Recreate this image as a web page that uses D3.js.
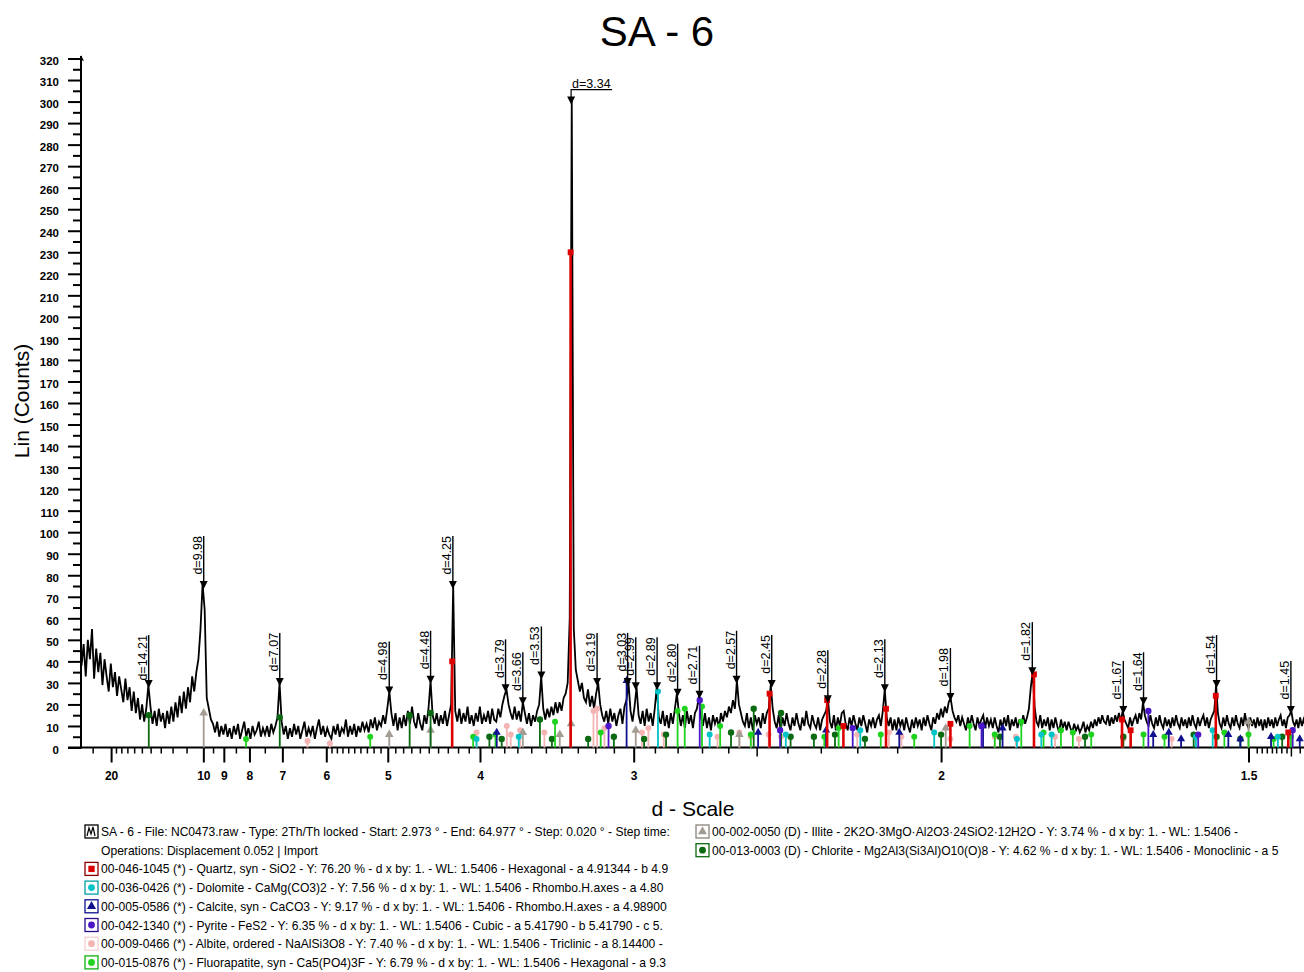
<!DOCTYPE html>
<html>
<head>
<meta charset="utf-8">
<title>SA - 6</title>
<script src="https://cdn.jsdelivr.net/npm/d3@7"></script>
<style>
  body { margin: 0; background: #fff; }
  svg { display: block; }
  text { font-family: "Liberation Sans", Arial, sans-serif; }
</style>
</head>
<body>
<div id="chart"></div>
<script>
// XRD scan SA - 6, counts at 0.1 deg 2Theta
const WL = 1.5406;
const scanStart = 3.0, scanStep = 0.1;
const scanCounts = [
  38,48,33,50,41,55,32,46,35,44,  // 3
  29,41,33,26,39,28,35,24,33,27,  // 4
  21,32,22,28,17,26,16,23,13,20,  // 5
  12,18,29,19,11,17,10,18,12,16,  // 6
  9,17,11,19,12,21,14,24,16,26,   // 7
  18,28,21,33,26,35,41,55,76,64,  // 8
  23,18,13,11,7,12,5,10,6,11,     // 9
  5,9,4,10,6,11,4,8,12,5,         // 10
  9,4,10,6,8,12,5,9,6,10,         // 11
  5,11,7,10,14,30,12,6,10,4,      // 12
  9,5,11,6,10,4,8,12,5,9,         // 13
  6,10,4,9,13,6,10,5,9,6,         // 14
  4,10,6,11,5,9,7,13,5,10,        // 15
  6,11,5,10,7,12,8,11,7,13,       // 16
  9,14,8,12,10,15,11,18,26,16,    // 17
  10,16,8,14,9,15,10,17,11,19,    // 18
  12,9,16,11,8,15,11,18,31,15,    // 19
  11,16,10,15,11,17,10,15,20,75,  // 20
  17,12,18,11,16,12,19,11,15,10,  // 21
  16,12,19,11,15,12,17,11,18,13,  // 22
  12,18,14,20,24,27,20,16,13,19,  // 23
  13,17,12,21,16,11,16,10,15,12,  // 24
  17,20,33,18,13,18,14,19,15,21,  // 25
  16,21,17,23,25,30,60,301,55,36, // 26
  31,26,30,23,21,27,19,24,18,25,  // 27
  30,20,15,12,17,11,18,12,16,10,  // 28
  15,18,11,19,22,30,17,12,19,28,  // 29
  15,11,17,10,18,12,16,10,18,28,  // 30
  14,11,17,10,15,9,16,11,18,25,   // 31
  16,10,15,9,17,11,15,9,16,18,    // 32
  24,14,10,16,9,14,8,15,11,14,    // 33
  9,16,12,17,14,19,16,22,18,31,   // 34
  20,16,12,10,16,9,14,8,15,11,    // 35
  14,9,16,11,16,18,29,18,12,9,    // 36
  15,8,14,10,16,11,8,14,10,16,    // 37
  11,8,14,10,17,11,9,15,11,9,     // 38
  14,8,13,15,17,22,12,9,15,8,     // 39
  14,10,16,17,11,8,14,10,15,11,   // 40
  8,14,10,15,11,7,13,10,14,9,     // 41
  13,15,10,17,27,14,10,14,8,13,   // 42
  8,14,10,13,8,14,10,7,13,9,      // 43
  14,10,13,8,14,10,15,11,8,14,    // 44
  11,16,13,18,14,19,16,21,23,17,  // 45
  14,12,15,10,14,11,8,14,10,15,   // 46
  11,8,14,10,13,15,9,14,10,13,    // 47
  9,14,10,7,13,9,14,10,15,8,      // 48
  13,10,14,9,13,10,15,11,14,18,   // 49
  28,35,19,12,10,15,9,13,10,14,   // 50
  8,13,9,14,10,7,13,9,12,8,       // 51
  12,9,7,11,8,10,7,9,12,7,        // 52
  10,8,12,9,13,10,14,11,15,12,    // 53
  11,15,10,14,11,15,12,16,12,17,  // 54
  13,11,9,14,10,13,15,11,16,13,   // 55
  21,15,12,10,15,11,9,14,10,15,   // 56
  11,9,14,10,13,9,14,10,15,11,    // 57
  9,14,10,13,9,14,10,15,11,9,     // 58
  14,10,13,15,10,14,9,13,15,17,   // 59
  29,16,11,9,14,10,15,11,9,14,    // 60
  10,15,11,9,14,10,16,11,9,14,    // 61
  10,13,9,14,10,13,8,13,9,14,     // 62
  10,13,9,14,10,13,15,10,13,9,    // 63
  14,15,17,12,10,13,9,14,10,13,   // 64
  10                              // 65
];

// peak labels: d spacing, counts at the marker
const peakLabels = [
  [14.21,29],[9.98,75],[7.07,30],[4.98,26],[4.48,31],[4.25,75],[3.79,27],[3.66,21],
  [3.53,33],[3.19,30],[3.03,30],[2.99,28],[2.89,28],[2.80,25],[2.71,24],[2.57,31],
  [2.45,29],[2.28,22],[2.13,27],[1.98,23],[1.82,35],[1.67,17],[1.64,21],[1.54,29],[1.45,17]
];
const mainPeak = [3.34, 300];

// reference sticks per phase: [d, counts]
const quartzSticks = [[4.257,40],[3.343,230],[2.457,25],[2.282,22],[2.237,10],[2.127,18],[1.980,11],
  [1.817,34],[1.672,13],[1.659,8],[1.541,24],[1.453,7]];
const dolomiteSticks = [[4.03,4],[3.69,5],[2.886,26],[2.670,6],[2.405,6],[2.192,8],[2.015,7],[1.848,4],
  [1.804,6],[1.786,6],[1.567,5],[1.545,8],[1.465,5]];
const calciteSticks = [[3.86,7],[3.035,31],[2.495,7],[2.285,8],[2.095,7],[1.913,10],[1.875,9],[1.626,6],
  [1.604,7],[1.587,4],[1.525,6],[1.510,4],[1.473,5],[1.440,4]];
const pyriteSticks = [[3.128,10],[2.709,22],[2.423,8],[2.212,9],[1.916,10],[1.633,17],[1.564,6],[1.448,8]];
const albiteSticks = [[6.39,3],[5.93,2],[4.03,7],[3.78,10],[3.75,6],[3.68,8],[3.51,7],[3.21,17],[3.19,18],
  [3.15,9],[2.96,7],[2.93,9],[2.86,6],[2.64,5],[2.56,7],[2.52,5],[2.46,6],[2.42,5],[2.20,6],[2.12,7],
  [2.09,5],[1.98,4],[1.89,5],[1.85,5],[1.78,5],[1.74,4],[1.67,4],[1.60,4]];
const fluorapatiteSticks = [[8.12,4],[5.25,5],[4.06,5],[3.87,6],[3.44,12],[3.17,7],[2.80,17],[2.77,18],
  [2.70,19],[2.63,10],[2.52,6],[2.29,5],[2.25,9],[2.14,6],[2.06,5],[1.94,10],[1.89,6],[1.84,12],[1.80,7],
  [1.77,8],[1.75,7],[1.72,6],[1.64,6],[1.61,5],[1.53,7],[1.50,6],[1.47,4],[1.45,5]];
const illiteSticks = [[9.98,16],[4.98,6],[4.48,8],[3.66,7],[3.41,6],[3.34,11],[2.99,8],[2.56,6],[1.99,9],[1.50,12]];
const chloriteSticks = [[14.2,15],[7.07,14],[4.72,15],[4.48,16],[3.92,5],[3.82,4],[3.54,13],[3.46,4],[3.24,4],
  [3.10,5],[2.95,4],[2.85,6],[2.59,7],[2.51,18],[2.42,16],[2.39,5],[2.32,5],[2.26,6],[2.18,4],[2.00,6],
  [1.88,5],[1.73,5],[1.67,5],[1.57,6],[1.54,5],[1.51,4],[1.46,5]];

// axes ticks
const yTicks = [0,10,20,30,40,50,60,70,80,90,100,110,120,130,140,150,160,170,180,190,200,
  210,220,230,240,250,260,270,280,290,300,310,320];
const xMajor = [20,10,9,8,7,6,5,4,3,2,1.5];
const xMajorLabels = ['20','10','9','8','7','6','5','4','3','2','1.5'];
const xMinor = [25,19,18,17,16,15,14,13,12,11,9.5,8.5,7.5,6.5,
  5.9,5.8,5.7,5.6,5.5,5.4,5.3,5.2,5.1,4.9,4.8,4.7,4.6,4.5,4.4,4.3,4.2,4.1,
  3.9,3.8,3.7,3.6,3.5,3.4,3.3,3.2,3.1,2.9,2.8,2.7,2.6,2.4,2.3,2.2,2.1,
  1.49,1.484,1.478,1.472,1.467,1.461,1.455,1.44];
const xMid = [2.5,1.45];

// legend texts
const scanLegend = ['SA - 6 - File: NC0473.raw - Type: 2Th/Th locked - Start: 2.973 ° - End: 64.977 ° - Step: 0.020 ° - Step time:',
  'Operations: Displacement 0.052 | Import'];
const phaseNames = ['quartz','dolomite','calcite','pyrite','albite','fluorapatite','illite','chlorite'];
const phaseLegend = [
  '00-046-1045 (*) - Quartz, syn - SiO2 - Y: 76.20 % - d x by: 1. - WL: 1.5406 - Hexagonal - a 4.91344 - b 4.9',
  '00-036-0426 (*) - Dolomite - CaMg(CO3)2 - Y: 7.56 % - d x by: 1. - WL: 1.5406 - Rhombo.H.axes - a 4.80',
  '00-005-0586 (*) - Calcite, syn - CaCO3 - Y: 9.17 % - d x by: 1. - WL: 1.5406 - Rhombo.H.axes - a 4.98900',
  '00-042-1340 (*) - Pyrite - FeS2 - Y: 6.35 % - d x by: 1. - WL: 1.5406 - Cubic - a 5.41790 - b 5.41790 - c 5.',
  '00-009-0466 (*) - Albite, ordered - NaAlSi3O8 - Y: 7.40 % - d x by: 1. - WL: 1.5406 - Triclinic - a 8.14400 -',
  '00-015-0876 (*) - Fluorapatite, syn - Ca5(PO4)3F - Y: 6.79 % - d x by: 1. - WL: 1.5406 - Hexagonal - a 9.3',
  '00-002-0050 (D) - Illite - 2K2O·3MgO·Al2O3·24SiO2·12H2O - Y: 3.74 % - d x by: 1. - WL: 1.5406 -',
  '00-013-0003 (D) - Chlorite - Mg2Al3(Si3Al)O10(O)8 - Y: 4.62 % - d x by: 1. - WL: 1.5406 - Monoclinic - a 5'
];
const phaseSticks = [quartzSticks, dolomiteSticks, calciteSticks, pyriteSticks, albiteSticks,
  fluorapatiteSticks, illiteSticks, chloriteSticks];

const phaseStyle = {
  quartz:       {color:'#dd0000', box:'#8b0000', symbol:d3.symbolSquare,   size:34, width:2.6},
  dolomite:     {color:'#00c4c8', box:'#00a0a8', symbol:d3.symbolCircle,   size:28, width:1.8},
  calcite:      {color:'#101090', box:'#101090', symbol:d3.symbolTriangle, size:28, width:1.8},
  pyrite:       {color:'#4a16c8', box:'#2a0a90', symbol:d3.symbolCircle,   size:32, width:1.8},
  albite:       {color:'#f4b4b4', box:'#f4d0d0', symbol:d3.symbolCircle,   size:28, width:1.8},
  fluorapatite: {color:'#1ed21e', box:'#10b010', symbol:d3.symbolCircle,   size:28, width:1.8},
  illite:       {color:'#a39c92', box:'#8a847a', symbol:d3.symbolTriangle, size:32, width:1.8},
  chlorite:     {color:'#0b6a12', box:'#0b6a12', symbol:d3.symbolCircle,   size:32, width:1.8}
};

(function(){
  const W = 1304, H = 972;
  const svg = d3.select('#chart').append('svg').attr('width', W).attr('height', H);
  svg.append('rect').attr('width', W).attr('height', H).attr('fill', '#fff');

  // d-scale: linear in 1/d (sin theta)
  const qOf = tt => 2 * Math.sin(tt * Math.PI / 360) / WL;
  const x = d3.scaleLinear().domain([qOf(2.973), qOf(64.977)]).range([81, 1305]);
  const xd = d => x(1 / d);
  const y = d3.scaleLinear().domain([0, 320]).range([747.5, 58.5]);

  svg.append('defs').append('clipPath').attr('id', 'plotclip')
    .append('rect').attr('x', 81).attr('y', 40).attr('width', W - 81).attr('height', 708);

  // title & axis titles
  svg.append('text').attr('x', 657).attr('y', 46).attr('text-anchor', 'middle')
    .attr('font-size', '42px').text('SA - 6');
  svg.append('text').attr('transform', 'translate(29,401) rotate(-90)').attr('text-anchor', 'middle')
    .attr('font-size', '21px').text('Lin (Counts)');
  svg.append('text').attr('x', 693).attr('y', 816).attr('text-anchor', 'middle')
    .attr('font-size', '21px').text('d - Scale');

  // y axis
  const yAx = svg.append('g').attr('transform', 'translate(81,0)')
    .call(d3.axisLeft(y).tickValues(yTicks).tickSize(13).tickPadding(9).tickFormat(d3.format('d')));
  yAx.select('.domain').remove();
  yAx.selectAll('line').attr('stroke', '#000').attr('stroke-width', 2);
  yAx.selectAll('text').attr('font-size', '11.5px').attr('font-weight', 'bold').attr('dy', '0.5em')
    .attr('font-family', '"Liberation Sans", Arial, sans-serif');
  const yMin = svg.append('g').attr('transform', 'translate(81,0)')
    .call(d3.axisLeft(y).tickValues(yTicks.slice(1).map(v => v - 5)).tickSize(8).tickFormat(''));
  yMin.select('.domain').remove();
  yMin.selectAll('line').attr('stroke', '#000').attr('stroke-width', 2);
  svg.append('line').attr('x1', 81).attr('x2', 81).attr('y1', 748.5).attr('y2', 56)
    .attr('stroke', '#000').attr('stroke-width', 2);
  svg.append('path').attr('d', 'M81,55 L84,61 L81,60 Z').attr('fill', '#000');

  // x axis
  const xAx = svg.append('g').attr('transform', 'translate(0,747.5)')
    .call(d3.axisBottom(x).tickValues(xMajor.map(d => 1 / d)).tickSize(15).tickPadding(8.5)
      .tickFormat((v, i) => xMajorLabels[i]));
  xAx.select('.domain').remove();
  xAx.selectAll('line').attr('stroke', '#000').attr('stroke-width', 2);
  xAx.selectAll('text').attr('font-size', '12px').attr('font-weight', 'bold')
    .attr('font-family', '"Liberation Sans", Arial, sans-serif');
  const xMn = svg.append('g').attr('transform', 'translate(0,747.5)')
    .call(d3.axisBottom(x).tickValues(xMinor.map(d => 1 / d)).tickSize(6).tickFormat(''));
  xMn.select('.domain').remove();
  xMn.selectAll('line').attr('stroke', '#000').attr('stroke-width', 1.5);
  const xMd = svg.append('g').attr('transform', 'translate(0,747.5)')
    .call(d3.axisBottom(x).tickValues(xMid.map(d => 1 / d)).tickSize(9).tickFormat(''));
  xMd.select('.domain').remove();
  xMd.selectAll('line').attr('stroke', '#000').attr('stroke-width', 1.5);
  svg.append('line').attr('x1', 68).attr('x2', W).attr('y1', 747.5).attr('y2', 747.5)
    .attr('stroke', '#000').attr('stroke-width', 2);

  // pattern
  const scan = scanCounts.map((c, i) => [scanStart + i * scanStep, c]);
  const line = d3.line().x(p => x(qOf(p[0]))).y(p => y(p[1]));
  svg.append('path').datum(scan).attr('clip-path', 'url(#plotclip)')
    .attr('d', line).attr('fill', 'none').attr('stroke', '#000').attr('stroke-width', 1.8)
    .attr('stroke-linejoin', 'miter');

  // phase sticks
  const sticksG = svg.append('g').attr('clip-path', 'url(#plotclip)');
  const drawOrder = [4, 6, 7, 5, 1, 2, 3, 0];
  drawOrder.forEach(k => {
    const st = phaseStyle[phaseNames[k]];
    const g = sticksG.append('g');
    g.selectAll('line').data(phaseSticks[k]).enter().append('line')
      .attr('x1', s => xd(s[0])).attr('x2', s => xd(s[0]))
      .attr('y1', y(0)).attr('y2', s => y(s[1]))
      .attr('stroke', st.color).attr('stroke-width', st.width);
    g.selectAll('path').data(phaseSticks[k]).enter().append('path')
      .attr('transform', s => `translate(${xd(s[0])},${y(s[1])})`)
      .attr('d', d3.symbol().type(st.symbol).size(st.size)).attr('fill', st.color);
  });

  // peak labels
  const lab = svg.append('g');
  const tri = (cx, cy) => `M${cx - 4},${cy - 5}L${cx + 4},${cy - 5}L${cx},${cy + 3}Z`;
  peakLabels.forEach(([d, h]) => {
    const cx = xd(d), cy = y(h);
    lab.append('line').attr('x1', cx).attr('x2', cx).attr('y1', cy).attr('y2', cy - 50)
      .attr('stroke', '#000').attr('stroke-width', 1.4);
    lab.append('path').attr('d', tri(cx, cy)).attr('fill', '#000');
    lab.append('text').attr('transform', `translate(${cx - 2},${cy - 50}) rotate(-90)`)
      .attr('text-anchor', 'end').attr('font-size', '12.5px').text('d=' + d.toFixed(2));
  });
  {
    const cx = xd(mainPeak[0]), cy = y(mainPeak[1]);
    lab.append('path').attr('d', `M${cx},${cy} L${cx},${cy - 12} L${cx + 41},${cy - 12}`)
      .attr('fill', 'none').attr('stroke', '#000').attr('stroke-width', 1.2);
    lab.append('path').attr('d', tri(cx, cy)).attr('fill', '#000');
    lab.append('text').attr('x', cx + 1).attr('y', cy - 14).attr('font-size', '12.5px')
      .text('d=' + mainPeak[0].toFixed(2));
  }

  // legend
  const leg = svg.append('g').attr('font-size', '12.1px');
  const rowY = i => 836 + i * 18.7;
  const box = (gx, gy, stroke) => leg.append('rect').attr('x', gx).attr('y', gy - 11)
    .attr('width', 13).attr('height', 13).attr('fill', '#fff').attr('stroke', stroke).attr('stroke-width', 1.3);

  box(85, rowY(0), '#000');
  leg.append('path').attr('d', `M87,${rowY(0)} L89,${rowY(0) - 8} L91,${rowY(0) - 2} L93,${rowY(0) - 9} L95,${rowY(0)}`)
    .attr('fill', 'none').attr('stroke', '#000').attr('stroke-width', 1.2);
  leg.append('text').attr('x', 101).attr('y', rowY(0)).text(scanLegend[0]);
  leg.append('text').attr('x', 101).attr('y', rowY(1)).text(scanLegend[1]);

  phaseNames.forEach((name, k) => {
    const st = phaseStyle[name];
    const right = k >= 6;
    const gx = right ? 696 : 85;
    const gy = right ? rowY(k - 6) : rowY(k + 2);
    box(gx, gy, st.box);
    leg.append('path').attr('transform', `translate(${gx + 6.5},${gy - 4.5})`)
      .attr('d', d3.symbol().type(st.symbol).size(name === 'quartz' ? 40 : 36)).attr('fill', st.color);
    leg.append('text').attr('x', gx + 16).attr('y', gy).text(phaseLegend[k]);
  });
})();
</script>
</body>
</html>
